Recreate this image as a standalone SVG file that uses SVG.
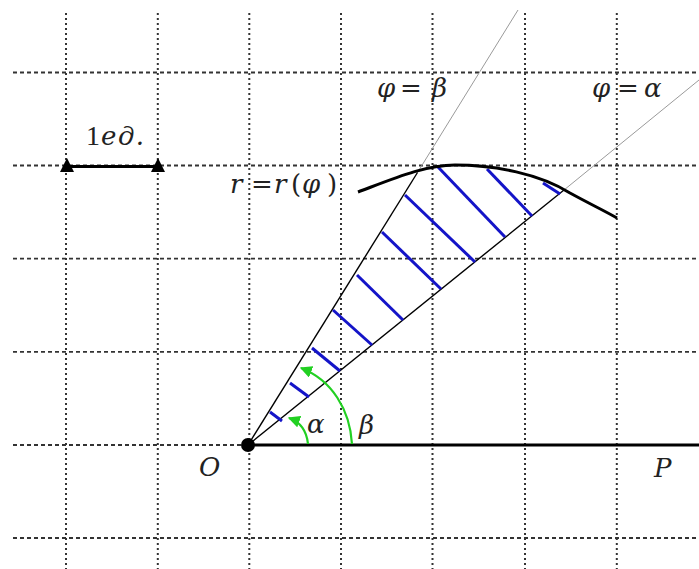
<svg xmlns="http://www.w3.org/2000/svg" width="699" height="569" viewBox="0 0 699 569">
<style>
.gh{stroke:#333;stroke-width:1.8;stroke-dasharray:4 3;fill:none}
.gv{stroke:#333;stroke-width:2;stroke-dasharray:2 3;fill:none}
.ray{stroke:#000;stroke-width:1.4;fill:none}
.ext{stroke:#9a9a9a;stroke-width:1;fill:none}
.hat{stroke:#1414c8;stroke-width:3;stroke-linecap:butt}
.grn{stroke:#22d022;stroke-width:2.2;fill:none}
.t{font-family:"DejaVu Serif","Liberation Serif",serif;font-style:italic;font-size:26px;fill:#222}
.tr{font-family:"Liberation Serif",serif;font-size:28px;fill:#222}
</style>
<defs>
<marker id="ga" viewBox="0 0 10 10" refX="9" refY="5" markerWidth="5.5" markerHeight="5.5" orient="auto" markerUnits="strokeWidth">
<path d="M0,0 L10,5 L0,10 z" fill="#22d022"/>
</marker>
</defs>
<rect width="699" height="569" fill="#fff"/>
<g id="grid">
<line class="gh" x1="13" y1="72.5" x2="699" y2="72.5"/>
<line class="gh" x1="13" y1="165.5" x2="699" y2="165.5"/>
<line class="gh" x1="13" y1="258.7" x2="699" y2="258.7"/>
<line class="gh" x1="13" y1="351.8" x2="699" y2="351.8"/>
<line class="gh" x1="13" y1="445" x2="699" y2="445"/>
<line class="gh" x1="13" y1="538" x2="699" y2="538"/>
<line class="gv" x1="66" y1="13" x2="66" y2="569"/>
<line class="gv" x1="157.8" y1="13" x2="157.8" y2="569"/>
<line class="gv" x1="249.3" y1="13" x2="249.3" y2="569"/>
<line class="gv" x1="341" y1="13" x2="341" y2="569"/>
<line class="gv" x1="432.5" y1="13" x2="432.5" y2="569"/>
<line class="gv" x1="525" y1="13" x2="525" y2="569"/>
<line class="gv" x1="616.8" y1="13" x2="616.8" y2="569"/>
</g>
<g id="scale">
<line x1="66" y1="166.5" x2="158" y2="166.5" stroke="#000" stroke-width="3"/>
<polygon points="60,172 74,172 67,158" fill="#000"/>
<polygon points="151,172 165,172 158,158" fill="#000"/>
<text class="tr" x="86" y="145">1<tspan class="t" x="101" font-size="25" letter-spacing="1.5">ед.</tspan></text>
</g>
<g id="connectors">
<line class="ext" x1="417.5" y1="172.5" x2="518" y2="10"/>
<line class="ext" x1="564" y1="190" x2="699" y2="80"/>
<line class="ray" x1="248" y1="445" x2="417.5" y2="172.5"/>
<line class="ray" x1="248" y1="445" x2="564" y2="190"/>
<line x1="248" y1="445" x2="699" y2="445" stroke="#000" stroke-width="3"/>
</g>
<g id="hatching">
<line class="hat" x1="270" y1="412" x2="282" y2="421"/>
<line class="hat" x1="290" y1="383" x2="309" y2="397"/>
<line class="hat" x1="312" y1="348" x2="340" y2="371"/>
<line class="hat" x1="333" y1="310" x2="372" y2="345"/>
<line class="hat" x1="357" y1="275" x2="403" y2="320"/>
<line class="hat" x1="382" y1="232" x2="441" y2="289"/>
<line class="hat" x1="405" y1="195" x2="475" y2="262"/>
<line class="hat" x1="438" y1="167" x2="505" y2="237"/>
<line class="hat" x1="487" y1="169" x2="532" y2="216"/>
<line class="hat" x1="543" y1="183" x2="560" y2="194"/>
</g>
<g id="curve">
<path d="M358,192 C395,178 425,165 455,165 C495,165 540,174 570,193 C590,204 605,211 617,218" fill="none" stroke="#000" stroke-width="3"/>
</g>
<g id="origin">
<circle cx="248" cy="445" r="7" fill="#000"/>
</g>
<g id="angles">
<path class="grn" d="M308,444 Q306,424 289,418" marker-end="url(#ga)"/>
<path class="grn" d="M352,444 C350,410 332,380 301,368" marker-end="url(#ga)"/>
</g>
<g id="labels">
<text class="t" x="307" y="433">α</text>
<text class="t" x="359" y="434">β</text>
<text class="t" x="199" y="476" font-size="30">O</text>
<text class="t" x="654" y="477" font-size="30">P</text>
<text class="t" y="97"><tspan x="377">φ</tspan><tspan x="400" font-style="normal">=</tspan><tspan x="432">β</tspan></text>
<text class="t" y="97"><tspan x="592">φ</tspan><tspan x="617" font-style="normal">=</tspan><tspan x="644">α</tspan></text>
<text class="t" y="193"><tspan x="230">r</tspan><tspan x="251" font-style="normal">=</tspan><tspan x="274">r</tspan><tspan x="291" font-style="normal">(</tspan><tspan x="302">φ</tspan><tspan x="327" font-style="normal">)</tspan></text>
</g>
</svg>
